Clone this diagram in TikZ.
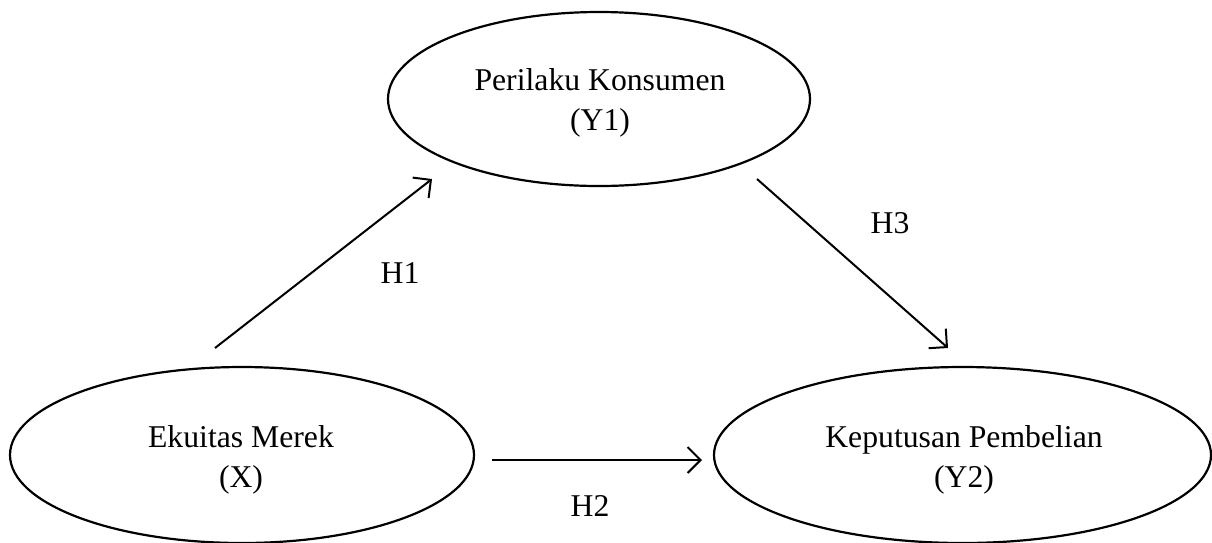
\documentclass[tikz,border=0pt]{standalone}
\usepackage{fontspec}
\setmainfont{Liberation Serif}
\usetikzlibrary{shapes.geometric,arrows.meta}
\tikzset{
  var/.style={ellipse, draw, line width=2.2pt, inner sep=0pt},
  txt/.style={font=\fontsize{31.7}{40}\selectfont, inner sep=0pt, anchor=base},
  conn/.style={line width=2pt, -{Straight Barb[length=13pt,width=26pt,line width=2pt]}},
}
\begin{document}
\begin{tikzpicture}[x=1pt,y=-1pt]
\useasboundingbox (0,0) rectangle (1212,542);
% ellipses
\node[var, minimum width=422pt, minimum height=174pt] (Y1) at (599,99) {};
\node[var, minimum width=464pt, minimum height=176pt] (X) at (242,455) {};
\node[var, minimum width=497pt, minimum height=176pt] (Y2) at (962.5,455) {};
% texts
\node[txt] (Y1a) at (600,90) {Perilaku Konsumen};
\node[txt] (Y1b) at (600,130) {(Y1)};
\node[txt] (Xa) at (241,447) {Ekuitas Merek};
\node[txt] (Xb) at (241,487) {(X)};
\node[txt] (Y2a) at (964,447) {Keputusan Pembelian};
\node[txt] (Y2b) at (964,487) {(Y2)};
% connector ends
\coordinate (h1s) at (215,348);
\coordinate (h1e) at (432,179);
\coordinate (h3s) at (757,179);
\coordinate (h3e) at (948,348);
\coordinate (h2s) at (492,460);
\coordinate (h2e) at (702,460);
\draw[conn] (h1s) -- (h1e);
\draw[conn] (h3s) -- (h3e);
\draw[conn] (h2s) -- (h2e);
% labels
\node[txt] (H1) at (400,283) {H1};
\node[txt] (H3) at (890,233) {H3};
\node[txt] (H2) at (590,516) {H2};
\end{tikzpicture}
\end{document}
